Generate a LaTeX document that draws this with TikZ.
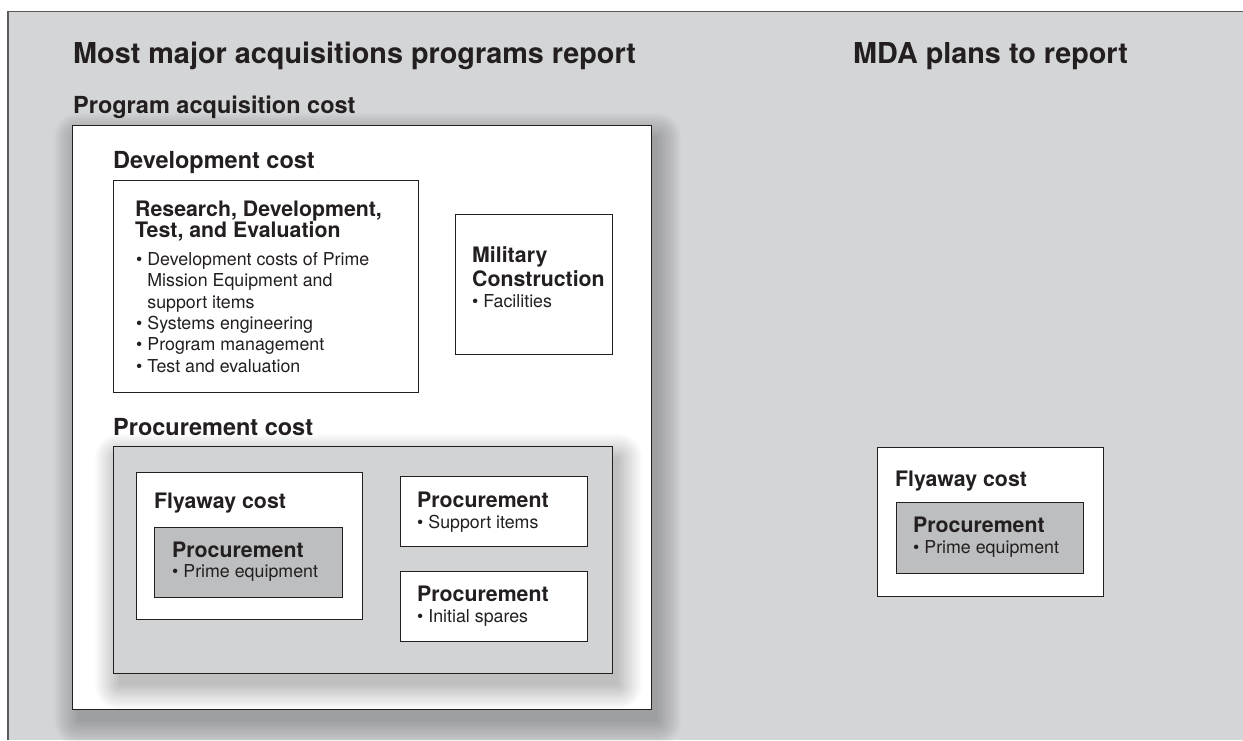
\documentclass[tikz,border=0pt]{standalone}
\usepackage{fontspec}
\setmainfont{TeX Gyre Heros}
\definecolor{panelgray}{HTML}{D4D5D7}
\definecolor{boxgray}{HTML}{D2D3D5}
\definecolor{primegray}{HTML}{BDBEC0}
\definecolor{inkline}{HTML}{231F20}
\definecolor{framegray}{HTML}{5A5A5C}
\tikzset{
    costbox/.style={draw=inkline, line width=1pt},
    shadowlayer/.style={fill=black, opacity=0.014},
    titletext/.style={anchor=base west, inner sep=0pt, text=inkline, font=\fontsize{28.8}{30}\selectfont\bfseries},
    headtext/.style={anchor=base west, inner sep=0pt, text=inkline, font=\fontsize{23.5}{25}\selectfont\bfseries},
    boxhead/.style={anchor=base west, inner sep=0pt, align=left, text=inkline, font=\fontsize{21.3}{21}\selectfont\bfseries},
    bullettext/.style={anchor=base west, inner sep=0pt, align=left, text=inkline, font=\fontsize{17.8}{21.3}\selectfont}
}
\newcommand{\bul}{\textbullet\ }
\newcommand{\bulgap}{\phantom{\textbullet\ }}
% soft shadow under a box: corners x1 y1 x2 y2
\newcommand{\softshadow}[4]{%
    \foreach \s in {0,...,15}{
        \fill[shadowlayer, rounded corners=1.6*\s pt]
            ({#1+6-1.6*\s},{#2+12-1.6*\s}) rectangle ({#3+6+1.6*\s},{#4+12+1.6*\s});
    }%
}

\begin{document}
\begin{tikzpicture}[x=1pt, y=-1pt]
    \useasboundingbox (0,0) rectangle (1243,740);
    \fill[panelgray] (8,11.7) rectangle (1243,740);
    \draw[framegray, line width=1.3pt] (8,740) -- (8,11.7) -- (1243,11.7);
    % titles
    \node[titletext] (most) at (73,63) {Most major acquisitions programs report};
    \node[titletext] (mda) at (853,63) {MDA plans to report};
    \node[headtext] (pacost) at (73,113) {Program acquisition cost};
    % program acquisition cost
    \softshadow{72}{125}{651}{709}
    \draw[costbox, fill=white] (72,125) rectangle (651,709);
    \node[headtext] (devcost) at (113,168) {Development cost};
    \draw[costbox, fill=white] (113,180) rectangle (418,392);
    \node[boxhead] (rdte) at (135,237) {Research, Development,\\Test, and Evaluation};
    \node[bullettext] (rdtelist) at (136,372) {\bul Development costs of Prime\\
        \bulgap Mission Equipment and\\
        \bulgap support items\\
        \bul Systems engineering\\
        \bul Program management\\
        \bul Test and evaluation};
    \draw[costbox, fill=white] (455,214) rectangle (612,354);
    \node[boxhead] (milcon) at (472,286) {Military\\[3pt]Construction};
    \node[bullettext] (milconlist) at (472,307) {\bul Facilities};
    % procurement cost
    \node[headtext] (proccost) at (113,435) {Procurement cost};
    \softshadow{113}{446}{612}{673}
    \draw[costbox, fill=boxgray] (113,446) rectangle (612,673);
    \draw[costbox, fill=white] (136,472) rectangle (362,619);
    \node[boxhead] (flyleft) at (154,508) {Flyaway cost};
    \draw[costbox, fill=primegray] (154,527) rectangle (342,597);
    \node[boxhead] (primeleft) at (172,557) {Procurement};
    \node[bullettext] (primeleftlist) at (172,577) {\bul Prime equipment};
    \draw[costbox, fill=white] (400,476) rectangle (587,546);
    \node[boxhead] (support) at (417,507) {Procurement};
    \node[bullettext] (supportlist) at (417,528) {\bul Support items};
    \draw[costbox, fill=white] (400,571) rectangle (587,641);
    \node[boxhead] (spares) at (417,601) {Procurement};
    \node[bullettext] (spareslist) at (417,622) {\bul Initial spares};
    % MDA flyaway cost
    \draw[costbox, fill=white] (877,447) rectangle (1103,596);
    \node[boxhead] (flyright) at (895,486) {Flyaway cost};
    \draw[costbox, fill=primegray] (896,502) rectangle (1083,573);
    \node[boxhead] (primeright) at (913,532) {Procurement};
    \node[bullettext] (primerightlist) at (913,553) {\bul Prime equipment};
\end{tikzpicture}
\end{document}
